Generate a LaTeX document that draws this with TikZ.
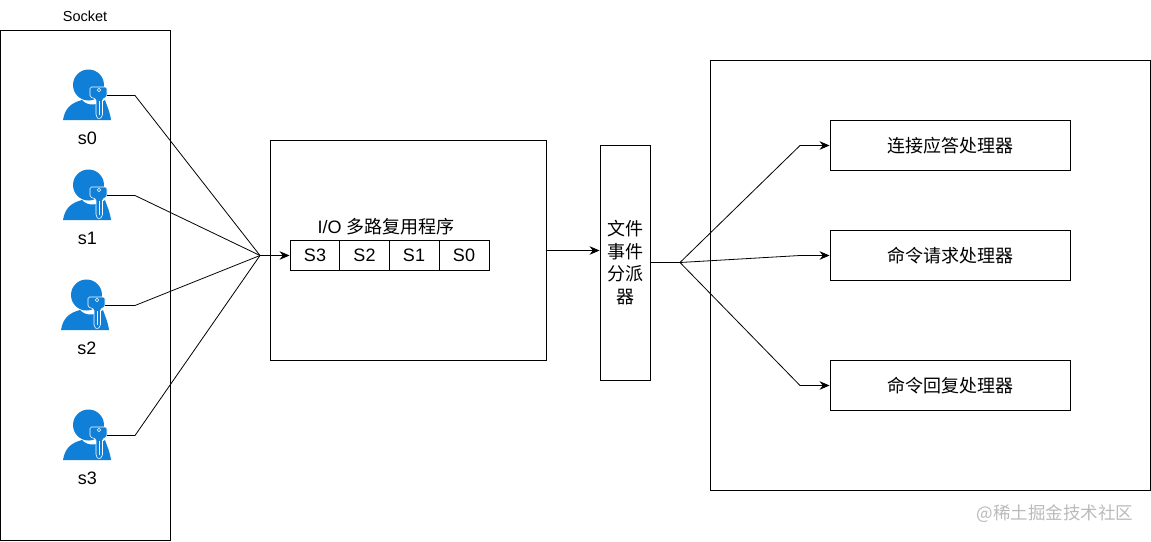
\documentclass[tikz,border=0pt]{standalone}
\usepackage{fontspec}
\setmainfont{Liberation Sans}
\newfontfamily\cjk{Noto Sans CJK SC}
\usetikzlibrary{arrows.meta}
\definecolor{iconblue}{HTML}{0F7FD8}
\newcommand{\lowered}[1]{\smash{\raisebox{-6.5pt}{\cjk #1}}}
\tikzset{
  box/.style={draw=black,line width=0.9pt,fill=white,inner sep=0pt,align=center,font=\fontsize{18}{22.4}\selectfont},
  lbl/.style={inner sep=0pt,font=\fontsize{18}{20}\selectfont},
  wire/.style={draw=black,line width=0.8pt,line join=miter},
  arrowwire/.style={wire,-{Stealth[length=10pt,width=8.5pt]}},
  person/.pic={
    \fill[iconblue] (25.5,15) circle (15.5);
    \fill[iconblue] (0,50) .. controls (2,38) and (8,33) .. (19,30)
       .. controls (24,36) and (34,36) .. (42,30)
       .. controls (44,36) and (47,42) .. (48,50) -- cycle;
    \filldraw[fill=iconblue,draw=white,line width=0.6pt,rounded corners=1.5pt]
       (27,17) -- (44,17) -- (44,27) -- (39.5,29) -- (39.5,46) -- (36,49.5) -- (33,46) -- (33,29) -- (27,27) -- cycle;
    \draw[white,line width=0.5pt] (36.5,31) -- (36.5,45);
    \draw[white,line width=0.5pt] (36,20) circle (1.8);
    \coordinate (-key) at (44,25.5);
  }
}
\begin{document}
\begin{tikzpicture}[x=1pt,y=-1pt]
\useasboundingbox (0,0) rectangle (1151,541);
% containers
\node[box,minimum width=170pt,minimum height=510pt] (sockets) at (85,285) {};
\node[box,minimum width=276pt,minimum height=220pt] (mux) at (408,250.5) {};
\node[box,minimum width=50pt,minimum height=235pt,text width=38pt] (dispatch) at (625,262.5) {\cjk 文件\\\cjk 事件\\\cjk 分派\\\cjk 器};
\node[box,minimum width=440pt,minimum height=430pt] (handlers) at (930,275) {};
% titles
\node[inner sep=0pt,font=\fontsize{14.5}{16}\selectfont] (socketlabel) at (85,16) {Socket};
\node[lbl] (muxlabel) at (386,226.5) {I/O {\cjk 多路复用程序}};
% queue
\node[box,minimum width=50pt,minimum height=30pt] (q3) at (315,255.5) {S3};
\node[box,minimum width=50pt,minimum height=30pt] (q2) at (364.5,255.5) {S2};
\node[box,minimum width=50pt,minimum height=30pt] (q1) at (414,255.5) {S1};
\node[box,minimum width=50pt,minimum height=30pt] (q0) at (464,255.5) {S0};
% handlers
\node[box,minimum width=240pt,minimum height=50pt] (h1) at (950,145.5) {\lowered{连接应答处理器}};
\node[box,minimum width=240pt,minimum height=50pt] (h2) at (950,255.5) {\lowered{命令请求处理器}};
\node[box,minimum width=240pt,minimum height=50pt] (h3) at (950,385.5) {\lowered{命令回复处理器}};
% people
\pic (s0) at (63,70) {person};
\pic (s1) at (63,170) {person};
\pic (s2) at (61,280) {person};
\pic (s3) at (63,410) {person};
\node[lbl] (s0label) at (87.5,138) {s0};
\node[lbl] (s1label) at (87.5,238) {s1};
\node[lbl] (s2label) at (87,348) {s2};
\node[lbl] (s3label) at (87.5,478) {s3};
% routing points
\coordinate (hubin) at (260,255.5);
\coordinate (hubout) at (680,262.5);
\coordinate (b0) at (135,95.5);
\coordinate (b1) at (135,195.5);
\coordinate (b2) at (135,305.5);
\coordinate (b3) at (135,435.5);
\coordinate (c1) at (800,145.5);
\coordinate (c2) at (800,255.5);
\coordinate (c3) at (800,385.5);
% connectors
\draw[wire] (s0-key) -- (b0) -- (hubin);
\draw[wire] (s1-key) -- (b1) -- (hubin);
\draw[wire] (s2-key) -- (b2) -- (hubin);
\draw[wire] (s3-key) -- (b3) -- (hubin);
\draw[arrowwire] (hubin) -- (q3.west);
\draw[arrowwire] (mux.east) -- (dispatch.west |- mux.east);
\draw[wire] (dispatch.east) -- (hubout);
\draw[arrowwire] (hubout) -- (c1) -- (h1.west);
\draw[arrowwire] (hubout) -- (c2) -- (h2.west);
\draw[arrowwire] (hubout) -- (c3) -- (h3.west);
% watermark
\node[inner sep=0pt,text=black!27,font=\fontsize{17.5}{20}\cjk] (mark) at (1055,513.5) {@稀土掘金技术社区};
\end{tikzpicture}
\end{document}
